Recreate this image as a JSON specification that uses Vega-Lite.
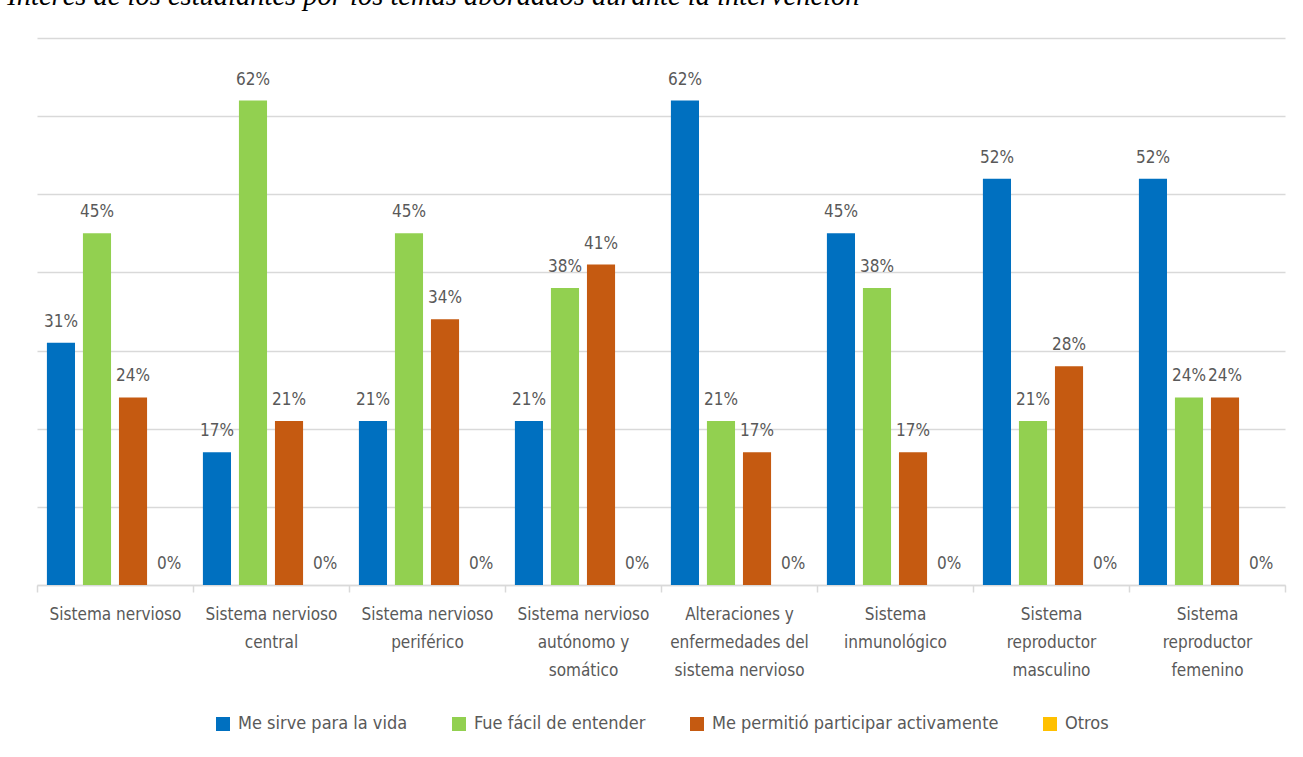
{
  "$schema": "https://vega.github.io/schema/vega-lite/v6.json",
  "width": 1248,
  "height": 547,
  "autosize": {"type": "none"},
  "padding": {"left": 37, "top": 38, "right": 18, "bottom": 172},
  "background": "white",
  "config": {
    "font": "DejaVu Sans Condensed, Liberation Sans Narrow, sans-serif",
    "view": {"stroke": null},
    "legend": {"layout": {"bottom": {"anchor": "middle"}}}
  },
  "title": {
    "text": "Interés de los estudiantes por los temas abordados durante la intervención",
    "anchor": "start",
    "font": "Liberation Serif",
    "fontStyle": "italic",
    "fontWeight": "normal",
    "fontSize": 28.5,
    "color": "#000000",
    "dx": -29,
    "offset": 28
  },
  "data": {
    "values": [
      {"tema": "Sistema nervioso", "serie": "Me sirve para la vida", "valor": 0.31},
      {"tema": "Sistema nervioso", "serie": "Fue fácil de entender", "valor": 0.45},
      {"tema": "Sistema nervioso", "serie": "Me permitió participar activamente", "valor": 0.24},
      {"tema": "Sistema nervioso", "serie": "Otros", "valor": 0},
      {"tema": "Sistema nervioso\ncentral", "serie": "Me sirve para la vida", "valor": 0.17},
      {"tema": "Sistema nervioso\ncentral", "serie": "Fue fácil de entender", "valor": 0.62},
      {"tema": "Sistema nervioso\ncentral", "serie": "Me permitió participar activamente", "valor": 0.21},
      {"tema": "Sistema nervioso\ncentral", "serie": "Otros", "valor": 0},
      {"tema": "Sistema nervioso\nperiférico", "serie": "Me sirve para la vida", "valor": 0.21},
      {"tema": "Sistema nervioso\nperiférico", "serie": "Fue fácil de entender", "valor": 0.45},
      {"tema": "Sistema nervioso\nperiférico", "serie": "Me permitió participar activamente", "valor": 0.34},
      {"tema": "Sistema nervioso\nperiférico", "serie": "Otros", "valor": 0},
      {"tema": "Sistema nervioso\nautónomo y\nsomático", "serie": "Me sirve para la vida", "valor": 0.21},
      {"tema": "Sistema nervioso\nautónomo y\nsomático", "serie": "Fue fácil de entender", "valor": 0.38},
      {"tema": "Sistema nervioso\nautónomo y\nsomático", "serie": "Me permitió participar activamente", "valor": 0.41},
      {"tema": "Sistema nervioso\nautónomo y\nsomático", "serie": "Otros", "valor": 0},
      {"tema": "Alteraciones y\nenfermedades del\nsistema nervioso", "serie": "Me sirve para la vida", "valor": 0.62},
      {"tema": "Alteraciones y\nenfermedades del\nsistema nervioso", "serie": "Fue fácil de entender", "valor": 0.21},
      {"tema": "Alteraciones y\nenfermedades del\nsistema nervioso", "serie": "Me permitió participar activamente", "valor": 0.17},
      {"tema": "Alteraciones y\nenfermedades del\nsistema nervioso", "serie": "Otros", "valor": 0},
      {"tema": "Sistema\ninmunológico", "serie": "Me sirve para la vida", "valor": 0.45},
      {"tema": "Sistema\ninmunológico", "serie": "Fue fácil de entender", "valor": 0.38},
      {"tema": "Sistema\ninmunológico", "serie": "Me permitió participar activamente", "valor": 0.17},
      {"tema": "Sistema\ninmunológico", "serie": "Otros", "valor": 0},
      {"tema": "Sistema\nreproductor\nmasculino", "serie": "Me sirve para la vida", "valor": 0.52},
      {"tema": "Sistema\nreproductor\nmasculino", "serie": "Fue fácil de entender", "valor": 0.21},
      {"tema": "Sistema\nreproductor\nmasculino", "serie": "Me permitió participar activamente", "valor": 0.28},
      {"tema": "Sistema\nreproductor\nmasculino", "serie": "Otros", "valor": 0},
      {"tema": "Sistema\nreproductor\nfemenino", "serie": "Me sirve para la vida", "valor": 0.52},
      {"tema": "Sistema\nreproductor\nfemenino", "serie": "Fue fácil de entender", "valor": 0.24},
      {"tema": "Sistema\nreproductor\nfemenino", "serie": "Me permitió participar activamente", "valor": 0.24},
      {"tema": "Sistema\nreproductor\nfemenino", "serie": "Otros", "valor": 0}
    ]
  },
  "encoding": {
    "x": {
      "field": "tema",
      "type": "nominal",
      "sort": null,
      "scale": {"paddingInner": 0, "paddingOuter": 0},
      "axis": {
        "title": null,
        "labelAngle": 0,
        "labelExpr": "split(datum.label, '\\n')",
        "labelFont": "DejaVu Sans Condensed, Liberation Sans Narrow, sans-serif",
        "labelFontSize": 17,
        "labelColor": "#595959",
        "labelLineHeight": 28,
        "labelPadding": 14,
        "labelLimit": 300,
        "tickBand": "extent",
        "tickColor": "#d9d9d9",
        "tickWidth": 1.5,
        "tickSize": 7,
        "domainColor": "#d9d9d9",
        "domainWidth": 1.5,
        "grid": false
      }
    },
    "xOffset": {
      "field": "serie",
      "sort": ["Me sirve para la vida", "Fue fácil de entender", "Me permitió participar activamente", "Otros"],
      "scale": {"paddingInner": 0.22, "paddingOuter": 0.275}
    },
    "y": {
      "field": "valor",
      "type": "quantitative",
      "scale": {"domain": [0, 0.7]},
      "axis": {
        "title": null,
        "values": [0, 0.1, 0.2, 0.3, 0.4, 0.5, 0.6, 0.7],
        "labels": false,
        "ticks": false,
        "domain": false,
        "grid": true,
        "gridColor": "#d9d9d9",
        "gridWidth": 1.5
      }
    }
  },
  "layer": [
    {
      "mark": {"type": "bar"},
      "encoding": {
        "color": {
          "field": "serie",
          "type": "nominal",
          "sort": ["Me sirve para la vida", "Fue fácil de entender", "Me permitió participar activamente", "Otros"],
          "scale": {
            "domain": ["Me sirve para la vida", "Fue fácil de entender", "Me permitió participar activamente", "Otros"],
            "range": ["#0070C0", "#92D050", "#C55A11", "#FFC000"]
          },
          "legend": {
            "title": null,
            "orient": "bottom",
            "direction": "horizontal",
            "symbolType": "square",
            "symbolSize": 196,
            "symbolStrokeWidth": 0,
            "labelFont": "DejaVu Sans Condensed, Liberation Sans Narrow, sans-serif",
            "labelFontSize": 18,
            "labelColor": "#595959",
            "labelOffset": 6,
            "labelLimit": 500,
            "columnPadding": 42,
            "offset": 37
          }
        }
      }
    },
    {
      "mark": {"type": "text", "baseline": "alphabetic", "dy": -16, "fontSize": 17, "color": "#595959", "font": "DejaVu Sans Condensed, Liberation Sans Narrow, sans-serif"},
      "encoding": {"text": {"field": "valor", "type": "quantitative", "format": ".0%"}}
    }
  ]
}
